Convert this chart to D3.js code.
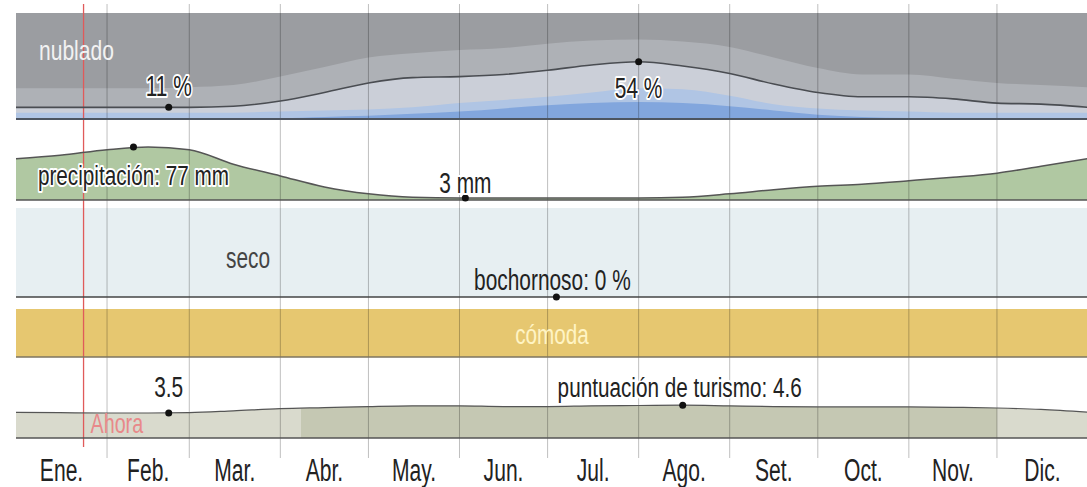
<!DOCTYPE html>
<html lang="es">
<head>
<meta charset="UTF-8">
<script src="https://d3js.org/d3.v7.min.js"></script>
<style>
  body { margin: 0; background: #fff; }
  svg { display: block; font-family: "Liberation Sans", Arial, sans-serif; }
</style>
</head>
<body>
<svg id="chart" width="1087" height="487"></svg>
<script>
// sample days (day of year) used by all the yearly series below
var days = [0, 15, 31, 45, 59, 74, 90, 105, 120, 135, 151, 166, 181, 196, 212, 227, 243, 258, 273, 288, 304, 319, 334, 349, 365];
var months = ["Ene.", "Feb.", "Mar.", "Abr.", "May.", "Jun.", "Jul.", "Ago.", "Set.", "Oct.", "Nov.", "Dic."];
var monthStarts = [0, 31, 59, 90, 120, 151, 181, 212, 243, 273, 304, 334, 365];

// cloud cover, cumulative % from the bottom of the band
var cloudClear       = [1, 1, 1, 1, 1, 1, 1, 2, 3, 5, 7, 10, 13, 15, 16, 15, 12, 8, 4, 2, 1, 1, 1, 1, 1];
var cloudMostlyClear = [6, 6, 6, 6, 6, 6, 7, 8, 9, 11, 15, 18, 21, 25, 29, 28, 22, 14, 10, 8, 7, 6, 6, 6, 6];
var cloudPartly      = [11, 11, 11, 11, 11, 12, 17, 25, 34, 39, 40, 42, 46, 51, 54, 50, 43, 33, 25, 21, 21, 19, 15, 14, 11];
var cloudMostly      = [29, 29, 29, 29, 30, 32, 40, 49, 58, 62, 65, 67, 71, 74, 75, 73, 68, 58, 48, 42, 42, 38, 34, 32, 30];
var cloudMin = { day: 52, value: 11, label: "11 %" };
var cloudMax = { day: 212, value: 54, label: "54 %" };

// monthly rainfall, mm
var precip = [60, 65, 73, 77, 73, 52, 35, 19, 9, 4, 3, 3, 3, 3, 3, 4, 9, 15, 20, 23, 28, 33, 39, 49, 60];
var precipMax = { day: 40, value: 77, label: "precipitación: 77 mm" };
var precipMin = { day: 153, value: 3, label: "3 mm" };

// muggy %, all year zero
var humid = [0, 0, 0, 0, 0, 0, 0, 0, 0, 0, 0, 0, 0, 0, 0, 0, 0, 0, 0, 0, 0, 0, 0, 0, 0];
var humidMark = { day: 184, value: 0, label: "bochornoso: 0 %" };

// comfort category
var comfortBands = [{ start: 0, end: 365, label: "cómoda" }];

// tourism score
var tourism = [3.6, 3.55, 3.5, 3.5, 3.55, 3.8, 4.1, 4.25, 4.4, 4.5, 4.5, 4.4, 4.4, 4.5, 4.55, 4.6, 4.5, 4.4, 4.35, 4.35, 4.35, 4.3, 4.2, 4.0, 3.6];
var tourismBands = [{ start: 0, end: 97, best: false }, { start: 97, end: 334, best: true }, { start: 334, end: 365, best: false }];
var tourismMin = { day: 52, value: 3.5, label: "3.5" };
var tourismMax = { day: 227, value: 4.6, label: "puntuación de turismo: 4.6" };

var nowDay = 23;

var svg = d3.select("#chart");

var x = d3.scaleLinear().domain([0, 365]).range([16, 1088]);

// text in the original is tall and narrow, so squeeze it horizontally
function label(parent, px, py, txt, size, sx, color, anchor, halo) {
    var t = parent.append("text")
        .attr("transform", "translate(" + px + "," + py + ") scale(" + sx + ",1)")
        .attr("text-anchor", anchor || "middle")
        .style("font-size", size + "px")
        .style("fill", color)
        .text(txt);
    if (halo) {
        t.style("stroke", "#fff").style("stroke-width", 4).style("stroke-linejoin", "round")
         .style("paint-order", "stroke");
    }
    return t;
}

function series(vals) {
    return days.map(function (d, i) { return { day: d, v: vals[i] }; });
}

var fills = svg.append("g");
var grid = svg.append("g");
var marks = svg.append("g");
var texts = svg.append("g");

// ---- cloud panel ----
var yc = d3.scaleLinear().domain([0, 100]).range([119, 13]);
fills.append("rect").attr("x", x(0)).attr("y", yc(100)).attr("width", x(365) - x(0)).attr("height", yc(0) - yc(100)).attr("fill", "#9b9da1");
var cloudLayers = [
    { vals: cloudMostly, color: "#aeb1b6" },
    { vals: cloudPartly, color: "#cbcfd8" },
    { vals: cloudMostlyClear, color: "#b0c5e4" },
    { vals: cloudClear, color: "#82a6dd" }
];
cloudLayers.forEach(function (l) {
    fills.append("path")
        .datum(series(l.vals))
        .attr("fill", l.color)
        .attr("d", d3.area().curve(d3.curveMonotoneX).x(function (d) { return x(d.day); }).y0(yc(0)).y1(function (d) { return yc(d.v); }));
});
marks.append("path")
    .datum(series(cloudPartly))
    .attr("fill", "none").attr("stroke", "#4a4d52").attr("stroke-width", 1.6)
    .attr("d", d3.line().curve(d3.curveMonotoneX).x(function (d) { return x(d.day); }).y(function (d) { return yc(d.v); }));
marks.append("line").attr("x1", x(0)).attr("x2", x(365)).attr("y1", yc(0)).attr("y2", yc(0)).attr("stroke", "#4d5560").attr("stroke-width", 2);

// ---- precipitation panel ----
var yp = d3.scaleLinear().domain([0, 77]).range([200, 147]);
fills.append("path")
    .datum(series(precip))
    .attr("fill", "#b0c8a2")
    .attr("d", d3.area().curve(d3.curveMonotoneX).x(function (d) { return x(d.day); }).y0(yp(0)).y1(function (d) { return yp(d.v); }));
marks.append("path")
    .datum(series(precip))
    .attr("fill", "none").attr("stroke", "#555").attr("stroke-width", 1.5)
    .attr("d", d3.line().curve(d3.curveMonotoneX).x(function (d) { return x(d.day); }).y(function (d) { return yp(d.v); }));
marks.append("line").attr("x1", x(0)).attr("x2", x(365)).attr("y1", yp(0)).attr("y2", yp(0)).attr("stroke", "#555").attr("stroke-width", 1.5);

// ---- humidity panel ----
var yh = d3.scaleLinear().domain([0, 100]).range([297, 208]);
fills.append("rect").attr("x", x(0)).attr("y", yh(100)).attr("width", x(365) - x(0)).attr("height", yh(0) - yh(100)).attr("fill", "#e7eff2");
marks.append("path")
    .datum(series(humid))
    .attr("fill", "none").attr("stroke", "#444").attr("stroke-width", 1.6)
    .attr("d", d3.line().x(function (d) { return x(d.day); }).y(function (d) { return yh(d.v); }));

// ---- comfort panel ----
comfortBands.forEach(function (b) {
    fills.append("rect").attr("x", x(b.start)).attr("y", 309).attr("width", x(b.end) - x(b.start)).attr("height", 48).attr("fill", "#e6c770");
});
marks.append("line").attr("x1", x(0)).attr("x2", x(365)).attr("y1", 357).attr("y2", 357).attr("stroke", "#7d7560").attr("stroke-width", 1.5);

// ---- tourism panel ----
var yt = d3.scaleLinear().domain([0, 3.5]).range([438, 413]);
var tArea = d3.area().curve(d3.curveMonotoneX).x(function (d) { return x(d.day); }).y0(yt(0)).y1(function (d) { return yt(d.v); });
var defs = svg.append("defs");
tourismBands.forEach(function (b, i) {
    defs.append("clipPath").attr("id", "tb" + i)
        .append("rect").attr("x", x(b.start)).attr("y", 380).attr("width", x(b.end) - x(b.start)).attr("height", 70);
    fills.append("path")
        .datum(series(tourism))
        .attr("clip-path", "url(#tb" + i + ")")
        .attr("fill", b.best ? "#c5c8b3" : "#d9dacd")
        .attr("d", tArea);
});
marks.append("path")
    .datum(series(tourism))
    .attr("fill", "none").attr("stroke", "#555").attr("stroke-width", 1.2)
    .attr("d", d3.line().curve(d3.curveMonotoneX).x(function (d) { return x(d.day); }).y(function (d) { return yt(d.v); }));
marks.append("line").attr("x1", x(0)).attr("x2", x(365)).attr("y1", yt(0)).attr("y2", yt(0)).attr("stroke", "#555").attr("stroke-width", 1.5);

// ---- month grid ----
grid.selectAll("line.m")
    .data(monthStarts.slice(1, 12))
    .enter().append("line")
    .attr("x1", function (d) { return x(d); }).attr("x2", function (d) { return x(d); })
    .attr("y1", 4).attr("y2", 458)
    .attr("stroke", "rgba(0,0,0,0.25)").attr("stroke-width", 1);

// now marker
grid.append("line").attr("x1", x(nowDay)).attr("x2", x(nowDay)).attr("y1", 4).attr("y2", 447)
    .attr("stroke", "#e05a5a").attr("stroke-width", 1.3);

// ---- dots ----
var dots = [
    { d: cloudMin, y: yc }, { d: cloudMax, y: yc },
    { d: precipMax, y: yp }, { d: precipMin, y: yp },
    { d: humidMark, y: yh },
    { d: tourismMin, y: yt }, { d: tourismMax, y: yt }
];
dots.forEach(function (o) {
    marks.append("circle").attr("cx", x(o.d.day)).attr("cy", o.y(o.d.value)).attr("r", 3.5).attr("fill", "#111");
});

// ---- labels ----
label(texts, 39, 60, "nublado", 27, 0.78, "#f2f2f2", "start");
label(texts, x(cloudMin.day), 96, cloudMin.label, 29, 0.72, "#222", "middle", true);
label(texts, x(cloudMax.day), 98, cloudMax.label, 29, 0.72, "#222", "middle", true);
label(texts, x(precipMax.day), 185, precipMax.label, 28, 0.74, "#222", "middle", true);
label(texts, x(precipMin.day), 193, precipMin.label, 29, 0.72, "#222", "middle", true);
label(texts, 248, 268, "seco", 29, 0.72, "#444", "middle");
label(texts, x(humidMark.day) - 4, 290, humidMark.label, 29, 0.72, "#222", "middle");
label(texts, 552, 344, comfortBands[0].label, 28, 0.74, "#fff4c4", "middle");
label(texts, x(tourismMin.day), 397, tourismMin.label, 29, 0.72, "#222", "middle", true);
label(texts, x(tourismMax.day) - 3, 397, tourismMax.label, 28, 0.74, "#222", "middle", true);
label(texts, x(nowDay) + 7, 433, "Ahora", 27, 0.73, "#e8898a", "start");

months.forEach(function (m, i) {
    label(texts, x((monthStarts[i] + monthStarts[i + 1]) / 2), 481, m, 31, 0.68, "#222", "middle");
});
</script>
</body>
</html>
